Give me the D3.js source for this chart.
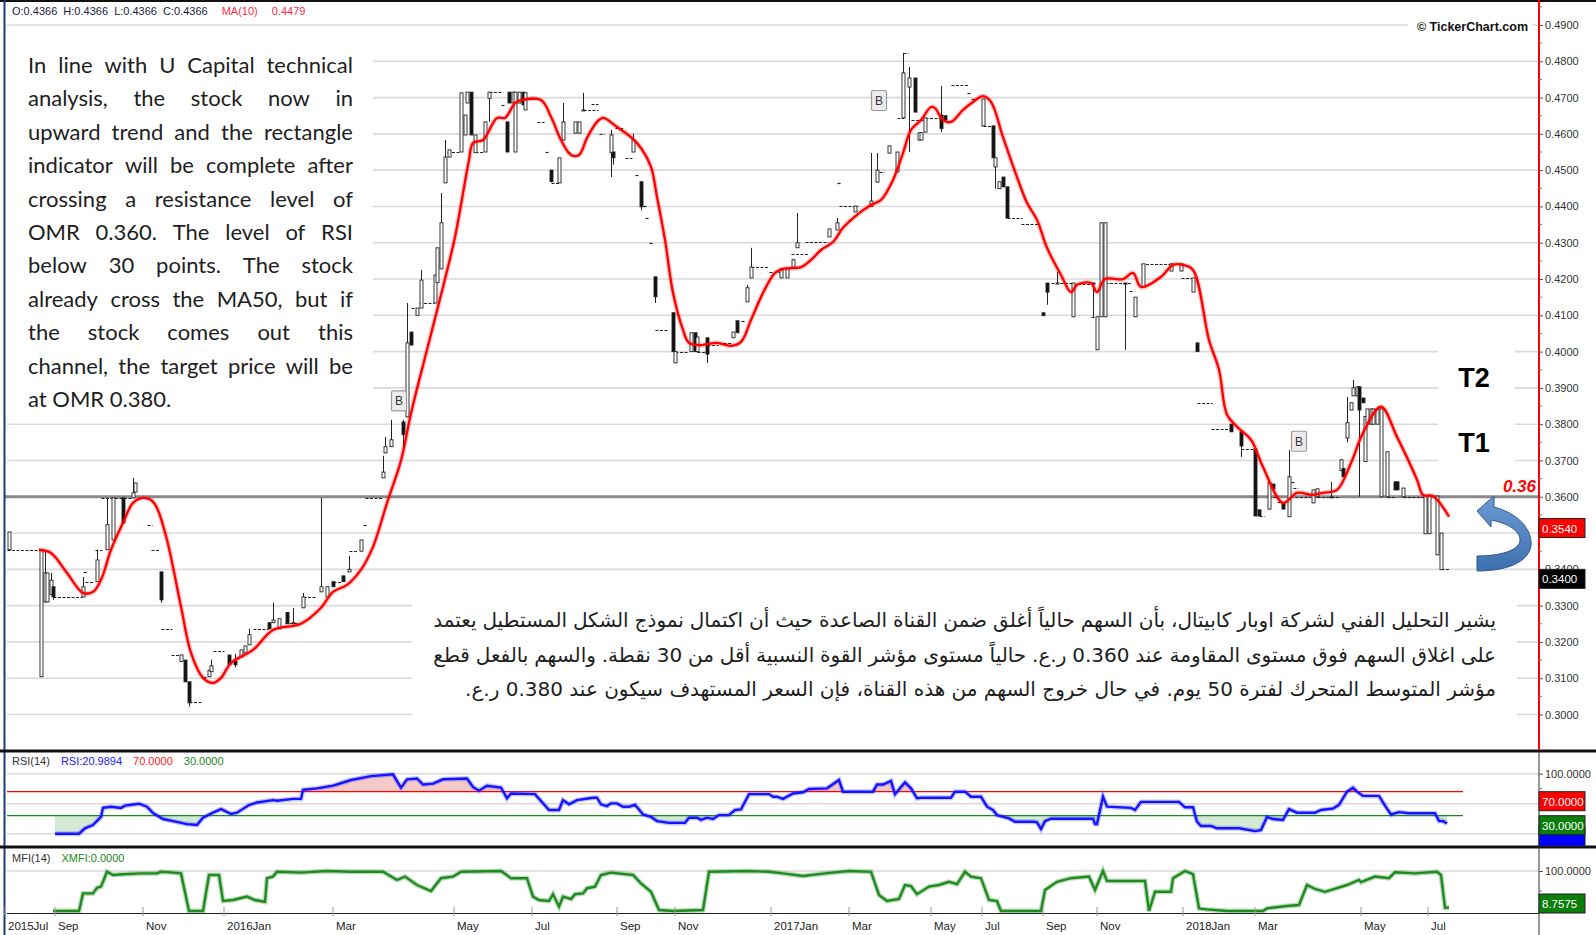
<!DOCTYPE html>
<html><head><meta charset="utf-8">
<script src="https://cdn.jsdelivr.net/npm/d3@7"></script>
<style>
html,body{margin:0;padding:0;background:#fff;}
#wrap{position:relative;width:1596px;height:935px;overflow:hidden;background:#fff;}
svg{position:absolute;left:0;top:0;}
#en{position:absolute;left:28px;top:48px;width:325px;font-family:Lato,"Open Sans",sans-serif;font-size:22px;color:#1e1e1e;line-height:33.4px;}
#ar{position:absolute;left:433px;top:603px;width:1063px;font-family:"DejaVu Sans",sans-serif;font-size:20px;color:#1e1e1e;line-height:34.5px;direction:rtl;}
.j{display:flex;justify-content:space-between;white-space:nowrap;}
.last{white-space:nowrap;}
</style></head>
<body><div id="wrap"></div>
<script>
// ---------------- data ----------------
const monthLabels = ["2015Jul","Sep","Nov","2016Jan","Mar","May","Jul","Sep","Nov","2017Jan","Mar","May","Jul","Sep","Nov","2018Jan","Mar","May","Jul"];
const monthDays   = [-1,24,68,108.5,163,223.5,262.5,305,334,382,421,462,487.5,518,545,588,624,677,710.5];
const priceTicks = d3.range(30,50).map(v=>v/100);

// [day, open, high, low, close]
const ohlc = [
[1,.3454,.3503,.3454,.3503],[17,.3104,.3454,.3104,.3454],[19,.331,.345,.331,.339],[20,.331,.339,.331,.339],
[22,.333,.339,.333,.337],[23,.3352,.3352,.3316,.3324],[38,.3324,.3379,.3324,.3352],[45,.3366,.3454,.3366,.3426],
[50,.3454,.3597,.3454,.3523],[53,.3481,.3597,.3481,.3597],[58,.3597,.3597,.3528,.3528],[63,.3597,.3652,.3597,.3611],
[64,.3613,.3638,.3613,.3638],[77,.3393,.3393,.3308,.3316],[87,.3146,.3164,.3146,.3164],[89,.315,.315,.309,.309],
[91,.309,.309,.3022,.3032],[101,.3104,.3122,.3104,.3122],[102,.3118,.3151,.3118,.3134],[111,.3164,.3164,.3137,.3137],
[114,.3146,.3167,.313,.3137],[117,.3159,.3178,.3159,.3178],[119,.317,.3189,.317,.3189],[121,.3192,.3236,.3192,.322],
[131,.3253,.3253,.3236,.3236],[133,.3253,.3308,.3253,.326],[136,.3236,.3264,.3236,.3264],[140,.3281,.3281,.325,.325],
[143,.325,.3294,.325,.3253],[148,.3294,.3335,.3294,.3324],[157,.3338,.3597,.3338,.3352],[160,.3324,.3352,.3324,.3352],
[163,.3366,.3366,.3352,.3352],[168,.3382,.3382,.3366,.3366],[171,.3393,.3437,.3393,.34],[177,.345,.3481,.345,.3481],
[188,.3652,.3713,.3652,.3668],[189,.3721,.3765,.3721,.3738],[192,.3738,.3812,.3738,.3757],[198,.3806,.3812,.3721,.3771],
[200,.382,.4134,.382,.4024],[202,.4054,.4054,.4018,.4018],[205,.41,.412,.41,.412],[207,.412,.4225,.412,.4197],
[214,.4134,.4211,.4134,.4211],[215,.419,.4286,.419,.4286],[217,.4228,.4437,.4228,.4355],[219,.4465,.4583,.4465,.4536],
[221,.4536,.4556,.4536,.4556],[227,.455,.4713,.455,.4713],[229,.4597,.4652,.4597,.4652],[230,.4685,.4715,.4685,.4715],
[232,.4715,.4715,.4597,.4597],[234,.4548,.4597,.4548,.4597],[239,.455,.4633,.455,.4633],[241,.4698,.4715,.4633,.4715],
[250,.4633,.4633,.455,.455],[251,.4715,.4715,.4685,.4685],[253,.4685,.4715,.4685,.4715],[254,.455,.4715,.455,.4715],
[256,.4685,.4715,.4685,.4715],[258,.4715,.4715,.468,.468],[259,.4666,.4713,.4666,.4713],[272,.45,.45,.4468,.4468],
[276,.4465,.4534,.4465,.4534],[278,.4583,.4685,.4583,.4633],[284,.4602,.4633,.4602,.4633],[286,.4602,.4633,.4602,.4633],
[288,.4666,.4713,.4666,.4666],[302,.4548,.4611,.4481,.4597],[303,.455,.455,.4515,.4534],[313,.455,.4601,.455,.4583],
[317,.4468,.4468,.4389,.4399],[324,.4206,.4206,.4134,.4151],[333,.4107,.4107,.4,.4],[334,.3969,.4,.3969,.4],
[342,.4,.4052,.4,.4052],[344,.4052,.4052,.4,.4],[345,.4,.404,.4,.404],[350,.4038,.4038,.3969,.3993],
[363,.4038,.4054,.4038,.4054],[365,.4085,.4085,.4052,.4052],[370,.4137,.4184,.4137,.4176],[372,.4203,.4286,.4203,.4233],
[387,.4203,.4228,.4203,.4228],[390,.4203,.4228,.4203,.4228],[393,.4233,.4256,.4233,.4253],[395,.4286,.4382,.4286,.43],
[411,.4316,.4338,.4316,.4338],[415,.4335,.4368,.4335,.4355],[424,.4385,.4401,.4385,.4401],[432,.44,.4547,.44,.4415],
[435,.4467,.4547,.4467,.45],[441,.4547,.4567,.4547,.4567],[445,.4495,.455,.4495,.455],[448,.4644,.4823,.4644,.4768],
[451,.4729,.4784,.455,.4754],[454,.4754,.4754,.466,.466],[456,.4583,.4603,.4583,.4603],[457,.4583,.4603,.4583,.4603],
[459,.4605,.4644,.4605,.4644],[467,.4652,.4732,.4605,.4615],[469,.465,.465,.4638,.4638],[488,.4622,.4696,.4622,.4696],
[493,.4622,.4622,.4534,.4534],[494,.4509,.4534,.4449,.4534],[496,.4449,.4468,.4449,.4468],[498,.4481,.4481,.4454,.4454],
[500,.4454,.4454,.4368,.4368],[518,.4107,.4107,.4099,.4099],[520,.4189,.4189,.4129,.4164],[525,.4189,.422,.4189,.4189],
[533,.4096,.4189,.4096,.4189],[543,.4189,.4189,.4096,.4186],[545,.4005,.4096,.4005,.4096],[547,.4096,.4355,.4096,.4355],
[549,.4096,.4355,.4096,.4355],[559,.4189,.4189,.4005,.4186],[564,.4096,.415,.4096,.415],[568,.4178,.4242,.4178,.4242],
[582,.4222,.4242,.4222,.4242],[587,.4222,.4242,.4222,.4242],[593,.4164,.4203,.4164,.4203],[595,.4024,.4024,.4,.4],
[612,.38,.38,.3779,.3779],[617,.3779,.3779,.371,.374],[624,.3732,.3732,.3547,.3547],[626,.3564,.3564,.3547,.3547],
[631,.3566,.3639,.3566,.3639],[633,.3635,.3635,.3622,.3622],[638,.3583,.3583,.3566,.3566],[641,.3545,.3729,.3545,.3655],
[653,.3583,.3619,.3583,.3619],[655,.36,.3622,.36,.3622],[662,.36,.3641,.36,.36],[667,.3672,.3702,.3672,.3702],
[668,.3678,.3678,.3655,.3655],[670,.3762,.3875,.375,.3804],[672,.3839,.3859,.3839,.3859],[673,.3878,.3922,.3878,.39],
[675,.3878,.3903,.3878,.3903],[676,.3903,.3903,.36,.3839],[678,.3872,.3872,.3859,.3859],[679,.3697,.3821,.3697,.3821],
[680,.38,.3842,.38,.3842],[682,.38,.3842,.38,.3842],[683,.38,.3842,.38,.3842],[685,.38,.3842,.38,.3842],
[687,.36,.3842,.36,.3842],[690,.36,.3724,.36,.3724],[694,.3641,.3641,.3619,.3619],[695,.3641,.3641,.3619,.3619],
[698,.36,.3624,.36,.3624],[709,.3498,.3602,.3498,.3602],[711,.3498,.3602,.3498,.3602],[715,.344,.3602,.344,.3602],
[717,.3399,.35,.3399,.35]
];

// flat sessions (open=high=low=close): [firstDay, lastDay, price]
const flats = [
[1,16,.3454],[24,37,.3324],[39,39,.3393],[40,43,.3366],[45,47,.3454],[48,62,.3597],[71,72,.3523],[73,76,.3454],
[78,82,.3236],[83,86,.3164],[92,97,.3035],[99,99,.3104],[104,108,.3175],[124,130,.3236],[140,147,.3253],[149,154,.3324],
[164,167,.3366],[172,175,.345],[179,179,.3523],[180,187,.3597],[203,205,.412],[207,213,.4134],[221,226,.455],[235,238,.455],
[242,247,.4715],[248,248,.468],[260,265,.4696],[266,268,.4633],[270,270,.455],[273,276,.4465],[281,281,.455],[289,295,.4666],
[293,295,.4682],[297,298,.46],[305,308,.4616],[310,312,.4534],[315,315,.4487],[319,319,.44],[320,320,.4368],[322,322,.43],
[325,330,.406],[335,340,.4],[346,349,.4],[351,355,.4018],[359,362,.4024],[368,368,.4085],[373,380,.4233],[382,386,.4219],
[393,400,.4269],[400,410,.4302],[416,416,.4465],[417,425,.4401],[437,438,.4495],[446,448,.4644],[449,450,.4823],[453,458,.4638],
[460,466,.4644],[473,480,.4735],[481,481,.4713],[483,483,.4696],[489,492,.4622],[501,507,.4368],[508,515,.4352],[523,532,.4189],
[534,542,.4186],[543,545,.4096],[550,562,.4189],[562,563,.4167],[568,581,.4242],[588,592,.4203],[596,602,.3859],[603,611,.3787],
[618,623,.3732],[627,628,.3547],[634,635,.36],[636,637,.3586],[643,643,.3641],[644,645,.3624],[645,651,.36],[656,660,.36],
[663,665,.36],[691,693,.36],[699,708,.36],[718,721,.34]
];

// MA(10) [day, value]
const ma10 = [
[16,.3454],[22,.3445],[30,.339],[38,.3335],[43,.3338],[47,.3371],[52,.3454],[58,.3528],[63,.3583],[68,.3597],[72,.3591],
[75,.3569],[80,.3481],[87,.3297],[92,.317],[98,.3101],[103,.3087],[107,.3101],[112,.3142],[123,.3178],[133,.3233],[147,.325],
[157,.3294],[163,.3338],[170,.3357],[177,.3399],[183,.3462],[190,.3583],[197,.37],[202,.383],[210,.4005],[218,.4178],
[224,.4316],[231,.4528],[233,.4575],[238,.4583],[245,.4644],[249,.4644],[254,.4685],[257,.4693],[267,.4693],[272,.4647],
[277,.4583],[282,.4542],[286,.4542],[290,.4589],[295,.4633],[298,.4644],[305,.4619],[312,.4591],[317,.4561],[322,.4509],
[325,.4426],[329,.4308],[333,.4162],[338,.406],[341,.4024],[347,.4018],[355,.4024],[362,.4016],[367,.4027],[372,.4087],
[378,.4162],[384,.4217],[388,.4228],[397,.4233],[402,.4253],[407,.428],[413,.4302],[418,.4341],[425,.4377],[432,.4404],
[437,.4418],[443,.4473],[448,.4547],[452,.4611],[457,.4638],[462,.4674],[464,.4671],[468,.4638],[472,.4633],[478,.4666],
[483,.4688],[488,.4704],[492,.4688],[498,.4591],[505,.4481],[510,.441],[515,.4363],[520,.4286],[527,.4211],[532,.4164],
[535,.4184],[542,.4189],[545,.4164],[549,.42],[558,.42],[563,.4217],[567,.4178],[577,.4206],[583,.4239],[588,.4239],
[593,.4225],[601,.4032],[606,.395],[610,.3826],[615,.3793],[622,.3757],[628,.3682],[638,.3583],[645,.3611],[653,.3605],
[658,.3611],[665,.3619],[672,.3693],[678,.3776],[687,.3848],[695,.3765],[705,.3647],[708,.3605],[713,.3602],[721,.3545]
];

// RSI(14) [day, value]
const rsi = [
[24,0],[36,0],[39,9],[43,14.5],[47,28],[48,43],[52,45],[57,43],[59,46.7],[66,50],[70,45],[73,34.5],[78,24.5],[83,21],[90,16],
[95,14.5],[98,26.7],[103,35],[107,41],[112,33],[115,35],[121,47.8],[125,52],[133,56],[135,55],[143,58],[147,58],[148,73],
[155,75.6],[163,80],[172,89.5],[182,96],[193,99],[197,76.7],[200,90.7],[205,92],[208,82],[213,83.5],[218,90.7],[230,92],
[233,78],[236,71.7],[240,80],[247,77],[250,59],[252,67],[264,66],[271,39.5],[276,39.5],[278,56],[281,49],[285,56],[293,60],
[295,60],[297,49],[300,46],[302,50.6],[305,50.6],[308,45],[311,45],[314,48],[316,40.5],[318,32],[322,28],[325,21],[331,18],
[339,18],[341,26.7],[345,26.7],[347,23],[350,26.7],[353,24.4],[356,31],[361,31],[364,39.5],[367,40.5],[371,66],[381,66],
[383,61.7],[385,61.7],[388,58],[393,67],[398,69],[401,74.4],[410,75.6],[416,89.5],[418,70],[433,70],[435,82],[438,82],
[442,88],[444,65.6],[447,78],[449,85.6],[452,75.6],[455,59],[457,60],[472,60],[474,70],[479,70],[482,61.7],[487,61.7],
[490,45],[493,39.5],[495,31],[501,25.6],[504,20],[513,20],[515,19],[517,7.8],[519,21],[522,25],[543,25],[544,16],[545,16],
[548,61.7],[550,45],[562,43],[564,39.5],[567,53],[586,53],[589,44],[593,44],[595,20],[597,12.8],[602,12.8],[605,9],[616,9],
[624,4.4],[627,6],[630,28],[633,24.4],[638,23],[641,41],[645,35],[654,35],[657,39.5],[663,42],[666,48],[670,70],[673,76.7],
[675,70],[678,63],[686,63],[689,46.7],[692,32],[696,36],[701,34],[714,34],[716,21],[718,21],[720,17]
];

// MFI(14) [day, value]
const mfi = [
[23,0],[36,0],[38,44],[43,44],[45,58],[47,61],[50,98],[53,90],[58,92],[67,94],[75,94],[77,98],[83,96],[87,94],[91,0],[98,0],
[101,90],[106,90],[108,25],[113,27.5],[120,36],[124,27.5],[129,23],[130,82],[133,86],[135,98],[147,96],[160,100],[172,98],
[188,98],[195,77.5],[199,86],[205,65],[212,50],[217,82],[223,86],[227,98],[247,100],[252,82],[260,82],[263,36],[266,27.5],
[271,25],[273,42],[276,11],[278,36],[282,30],[284,42],[288,44],[290,57],[294,61],[297,90],[302,96],[313,90],[317,69],[322,48],
[326,2.5],[333,0],[348,2.5],[351,98],[371,100],[381,98],[388,94],[398,87.5],[409,94],[421,100],[432,98],[436,40],[440,25],
[446,30],[449,65],[452,62.5],[455,42],[461,61],[466,65],[471,73],[475,67],[479,98],[482,86],[487,82],[491,27.5],[495,25],
[497,0],[517,0],[519,52.5],[525,73],[532,82],[541,86],[544,52.5],[548,100],[550,75],[569,75],[571,0],[574,48],[582,48],
[583,82],[589,100],[593,92],[596,6.7],[600,4],[610,0],[628,0],[630,6.7],[640,12.5],[646,15],[650,65],[654,55],[659,48],
[663,54],[670,65],[676,77.5],[677,72],[684,86],[691,82],[694,97],[704,94],[715,98],[717,90],[719,8.3],[721,8.76]
];

const signalDays = [196,436,646];
const signalPrices = [0.3864,0.4692,0.3753];

const header = {o:"0.4366",h:"0.4366",l:"0.4366",c:"0.4366",ma:"0.4479"};
const lastMA = 0.3540, lastClose = 0.3400, rsiLast = 20.9894, mfiLast = 8.7575;
const resistance = 0.36;

const enLines = ["In line with U Capital technical","analysis, the stock now in","upward trend and the rectangle","indicator will be complete after","crossing a resistance level of","OMR 0.360. The level of RSI","below 30 points. The stock","already cross the MA50, but if","the stock comes out this","channel, the target price will be","at OMR 0.380."];
const arLines = ["يشير التحليل الفني لشركة اوبار كابيتال، بأن السهم حالياً أغلق ضمن القناة الصاعدة حيث أن اكتمال نموذج الشكل المستطيل يعتمد",
"على اغلاق السهم فوق مستوى المقاومة عند 0.360 ر.ع. حالياً مستوى مؤشر القوة النسبية أقل من 30 نقطة. والسهم بالفعل قطع",
"مؤشر المتوسط المتحرك لفترة 50 يوم. في حال خروج السهم من هذه القناة، فإن السعر المستهدف سيكون عند 0.380 ر.ع."];

// ---------------- chart ----------------
const W=1596,H=935, AX=1539, L=7;
const svg = d3.select('#wrap').append('svg').attr('width',W).attr('height',H);
const x = d3.scaleLinear().domain([0,766]).range([L,AX]);
const yP = d3.scaleLinear().domain([0.30,0.49]).range([714.5,25]);
const yR = d3.scaleLinear().domain([0,100]).range([833.7,773.7]);
const yM = d3.scaleLinear().domain([0,100]).range([911,871]);
const FONT = "Liberation Sans, Arial, sans-serif";

const defs = svg.append('defs');
const grad = defs.append('linearGradient').attr('id','arrowGrad').attr('x1','0').attr('y1','0').attr('x2','0').attr('y2','1');
grad.append('stop').attr('offset','0').attr('stop-color','#6d9bd6');
grad.append('stop').attr('offset','1').attr('stop-color','#3e6fae');

// price gridlines
svg.append('g').selectAll('line').data(priceTicks).join('line')
  .attr('x1',L).attr('x2',AX).attr('y1',d=>yP(d)).attr('y2',d=>yP(d))
  .attr('stroke','#dadada').attr('stroke-width',1.6);

// white boxes behind annotations
const boxes = [[7,36,366,376],[412,574,1105,146],[1438,332,77,140],[1408,16,124,20]];
svg.append('g').selectAll('rect').data(boxes).join('rect')
  .attr('x',d=>d[0]).attr('y',d=>d[1]).attr('width',d=>d[2]).attr('height',d=>d[3]).attr('fill','#fff');

// resistance line
svg.append('line').attr('x1',L-2).attr('x2',AX).attr('y1',yP(resistance)).attr('y2',yP(resistance))
  .attr('stroke','#8a8a8a').attr('stroke-width',3);

// flats
svg.append('g').selectAll('line').data(flats).join('line')
  .attr('x1',d=>x(d[0])-1.5).attr('x2',d=>x(d[1])+1.5)
  .attr('y1',d=>Math.round(yP(d[2]))+0.5).attr('y2',d=>Math.round(yP(d[2]))+0.5)
  .attr('stroke','#222').attr('stroke-width',1.2).attr('stroke-dasharray','3,1.5');

// candles
const cg = svg.append('g');
cg.selectAll('line').data(ohlc).join('line')
  .attr('x1',d=>Math.round(x(d[0]))+0.5).attr('x2',d=>Math.round(x(d[0]))+0.5)
  .attr('y1',d=>yP(d[2])).attr('y2',d=>yP(d[3])).attr('stroke','#222').attr('stroke-width',1);
cg.selectAll('rect').data(ohlc).join('rect')
  .attr('x',d=>Math.round(x(d[0]))-1).attr('width',3)
  .attr('y',d=>yP(Math.max(d[1],d[4])))
  .attr('height',d=>Math.max(1,yP(Math.min(d[1],d[4]))-yP(Math.max(d[1],d[4]))))
  .attr('fill',d=>d[4]>=d[1]?'#fff':'#111').attr('stroke','#222').attr('stroke-width',0.9);

// MA line
const maLine = d3.line().x(d=>x(d[0])).y(d=>yP(d[1])).curve(d3.curveCatmullRom.alpha(0.5));
svg.append('path').datum(ma10).attr('d',maLine).attr('fill','none').attr('stroke','rgba(255,0,0,0.22)').attr('stroke-width',5);
svg.append('path').datum(ma10).attr('d',maLine).attr('fill','none').attr('stroke','#ff0000').attr('stroke-width',2.3);

// B markers
const sig = svg.append('g').selectAll('g').data(signalDays).join('g')
  .attr('transform',(d,i)=>`translate(${x(d)},${yP(signalPrices[i])})`);
sig.append('rect').attr('x',-7.5).attr('y',-10).attr('width',15).attr('height',20).attr('rx',1.5)
  .attr('fill','#ececec').attr('stroke','#9a9a9a').attr('stroke-width',1.2);
sig.append('text').attr('text-anchor','middle').attr('y',4.5).attr('font-family',FONT).attr('font-size',12).attr('fill','#333').text('B');

// T2 / T1 / 0.36
svg.append('text').attr('x',1474).attr('y',387).attr('text-anchor','middle').attr('font-family',FONT).attr('font-weight','bold').attr('font-size',27).attr('fill','#000').text('T2');
svg.append('text').attr('x',1474).attr('y',452).attr('text-anchor','middle').attr('font-family',FONT).attr('font-weight','bold').attr('font-size',27).attr('fill','#000').text('T1');
svg.append('text').attr('x',1536).attr('y',yP(resistance)-5).attr('text-anchor','end').attr('font-family',FONT).attr('font-weight','bold').attr('font-style','italic').attr('font-size',17).attr('fill','#ff0000').text('0.36');

// curved arrow
svg.append('path').attr('d','M1477,571 C1512,571 1533,559 1531,541 C1529,524 1513,512 1494,507 L1494,496 L1477,511 L1491,527 L1491,520 C1507,523 1519,530 1520,539 C1521,549 1504,556 1477,556 Z')
  .attr('fill','url(#arrowGrad)').attr('stroke','#2f5b8e').attr('stroke-width',1);

// copyright
svg.append('text').attr('x',1528).attr('y',31).attr('text-anchor','end').attr('font-family',FONT).attr('font-weight','bold').attr('font-size',12.5).attr('fill','#111').text('© TickerChart.com');

// header
const hdr = svg.append('text').attr('x',12).attr('y',15).attr('font-family',FONT).attr('font-size',11);
hdr.append('tspan').attr('fill','#1a1a40').text(`O:${header.o}  H:${header.h}  L:${header.l}  C:${header.c}`).attr('xml:space','preserve');
hdr.append('tspan').attr('fill','#ff2a4a').attr('dx',14).text('MA(10)');
hdr.append('tspan').attr('fill','#ff2a4a').attr('dx',14).text(header.ma);

// ---------- RSI panel ----------
svg.append('g').selectAll('line').data([0,50,100]).join('line')
  .attr('x1',L).attr('x2',AX).attr('y1',d=>yR(d)).attr('y2',d=>yR(d)).attr('stroke','#dadada').attr('stroke-width',1.5);
defs.append('clipPath').attr('id','c70').append('rect').attr('x',0).attr('y',752).attr('width',W).attr('height',yR(70)-752);
defs.append('clipPath').attr('id','c30').append('rect').attr('x',0).attr('y',yR(30)).attr('width',W).attr('height',847-yR(30));
svg.append('path').datum(rsi).attr('clip-path','url(#c70)')
  .attr('d',d3.area().x(d=>x(d[0])).y0(yR(70)).y1(d=>yR(d[1]))).attr('fill','#f6c9c9');
svg.append('path').datum(rsi).attr('clip-path','url(#c30)')
  .attr('d',d3.area().x(d=>x(d[0])).y0(yR(30)).y1(d=>yR(d[1]))).attr('fill','#d3e9d3');
svg.append('line').attr('x1',L).attr('x2',x(728)).attr('y1',yR(70)).attr('y2',yR(70)).attr('stroke','#ff0000').attr('stroke-width',1.3);
svg.append('line').attr('x1',L).attr('x2',x(728)).attr('y1',yR(30)).attr('y2',yR(30)).attr('stroke','#1a8a1a').attr('stroke-width',1.3);
const rLine = d3.line().x(d=>x(d[0])).y(d=>yR(d[1]));
svg.append('path').datum(rsi).attr('d',rLine).attr('fill','none').attr('stroke','rgba(60,60,255,0.3)').attr('stroke-width',5);
svg.append('path').datum(rsi).attr('d',rLine).attr('fill','none').attr('stroke','#1414ff').attr('stroke-width',2.4);

// ---------- MFI panel ----------
svg.append('line').attr('x1',L).attr('x2',AX).attr('y1',yM(100)).attr('y2',yM(100)).attr('stroke','#dadada').attr('stroke-width',1.5);
const mLine = d3.line().x(d=>x(d[0])).y(d=>yM(d[1]));
svg.append('path').datum(mfi).attr('d',mLine).attr('fill','none').attr('stroke','rgba(30,140,30,0.3)').attr('stroke-width',5);
svg.append('path').datum(mfi).attr('d',mLine).attr('fill','none').attr('stroke','#1f8a1f').attr('stroke-width',2.4);

// panel headers
function hdrText(yv, parts){
  const t = svg.append('text').attr('x',12).attr('y',yv).attr('font-family',FONT).attr('font-size',11);
  parts.forEach((p,i)=>t.append('tspan').attr('fill',p[1]).attr('dx',i?11:0).text(p[0]));
}
hdrText(765,[["RSI(14)","#333"],["RSI:"+rsiLast.toFixed(4),"#2020ff"],["70.0000","#ff2020"],["30.0000","#1a8a1a"]]);
hdrText(862,[["MFI(14)","#333"],["XMFI:0.0000","#1a8a1a"]]);

// ---------- frame ----------
svg.append('line').attr('x1',0).attr('x2',W).attr('y1',1).attr('y2',1).attr('stroke','#111').attr('stroke-width',2);
svg.append('line').attr('x1',4.5).attr('x2',4.5).attr('y1',0).attr('y2',H).attr('stroke','#1c3d70').attr('stroke-width',2);
svg.append('line').attr('x1',0).attr('x2',W).attr('y1',751).attr('y2',751).attr('stroke','#111').attr('stroke-width',3);
svg.append('line').attr('x1',0).attr('x2',W).attr('y1',847).attr('y2',847).attr('stroke','#111').attr('stroke-width',3);
svg.append('line').attr('x1',L).attr('x2',AX).attr('y1',913.5).attr('y2',913.5).attr('stroke','#222').attr('stroke-width',1);
svg.append('line').attr('x1',AX).attr('x2',AX).attr('y1',0).attr('y2',750).attr('stroke','#ff0000').attr('stroke-width',2);
svg.append('line').attr('x1',AX).attr('x2',AX).attr('y1',752).attr('y2',H).attr('stroke','#333').attr('stroke-width',1);

// ---------- right axes ----------
function styleAxis(g){ g.select('.domain').remove(); g.attr('font-family',FONT).attr('font-size',11);
  g.selectAll('text').attr('fill','#333'); g.selectAll('line').attr('stroke','#555'); }
// labels hidden behind the value boxes are not drawn (0.3500, RSI 50 / 0, MFI 0)
const hiddenPrice = [0.35];
svg.append('g').attr('transform',`translate(${AX},0)`)
  .call(d3.axisRight(yP).tickValues(priceTicks).tickFormat(d=>hiddenPrice.some(h=>Math.abs(h-d)<1e-6)?'':d3.format('.4f')(d)).tickSize(4).tickPadding(2)).call(styleAxis);
svg.append('g').selectAll('line').data(priceTicks.map(v=>v+0.005)).join('line')
  .attr('x1',AX).attr('x2',AX+3).attr('y1',d=>yP(d)).attr('y2',d=>yP(d)).attr('stroke','#777');
svg.append('g').attr('transform',`translate(${AX},0)`)
  .call(d3.axisRight(yR).tickValues([0,50,100]).tickFormat(d=>d===100?d3.format('.4f')(d):'').tickSize(4).tickPadding(2)).call(styleAxis);
svg.append('g').attr('transform',`translate(${AX},0)`)
  .call(d3.axisRight(yM).tickValues([0,100]).tickFormat(d=>d===100?d3.format('.4f')(d):'').tickSize(4).tickPadding(2)).call(styleAxis);
svg.append('g').selectAll('line').data([25,75]).join('line')
  .attr('x1',AX).attr('x2',AX+3).attr('y1',d=>yR(d)).attr('y2',d=>yR(d)).attr('stroke','#777');
svg.append('line').attr('x1',AX).attr('x2',AX+3).attr('y1',yM(50)).attr('y2',yM(50)).attr('stroke','#777');

// value boxes
function vbox(yTop, txt, fill, showText){
  svg.append('rect').attr('x',AX).attr('y',yTop).attr('width',46).attr('height',19).attr('fill',fill).attr('stroke','#222').attr('stroke-width',1);
  if(showText!==false) svg.append('text').attr('x',AX+3).attr('y',yTop+14).attr('font-family',FONT).attr('font-size',11.5).attr('fill','#fff').text(txt);
}
vbox(yP(lastMA), lastMA.toFixed(4), '#ff0000');
vbox(yP(lastClose), lastClose.toFixed(4), '#000');
vbox(yR(70), '70.0000', '#ff0000');
vbox(yR(rsiLast)+6, rsiLast.toFixed(4), '#0000ff', false);
vbox(yR(30), '30.0000', '#0a7d0a');
vbox(894, mfiLast.toFixed(4), '#0a7d0a');

// ---------- x axis ----------
const xa = svg.append('g');
xa.selectAll('line').data(monthDays).join('line')
  .attr('x1',d=>x(d)).attr('x2',d=>x(d)).attr('y1',907).attr('y2',916).attr('stroke','#999');
xa.selectAll('text').data(monthDays).join('text')
  .attr('x',d=>x(d)+3).attr('y',930).attr('font-family',FONT).attr('font-size',11.5).attr('fill','#222')
  .text((d,i)=>monthLabels[i]);

// ---------- paragraphs ----------
function para(id, lines){
  const box = d3.select('#wrap').append('div').attr('id',id);
  lines.forEach((ln,i)=>{
    if(i<lines.length-1){
      const row = box.append('div').attr('class','j');
      ln.split(' ').forEach(w=>row.append('span').text(w));
    } else box.append('div').attr('class','last').text(ln);
  });
}
para('en', enLines);
para('ar', arLines);
</script>
</body></html>
